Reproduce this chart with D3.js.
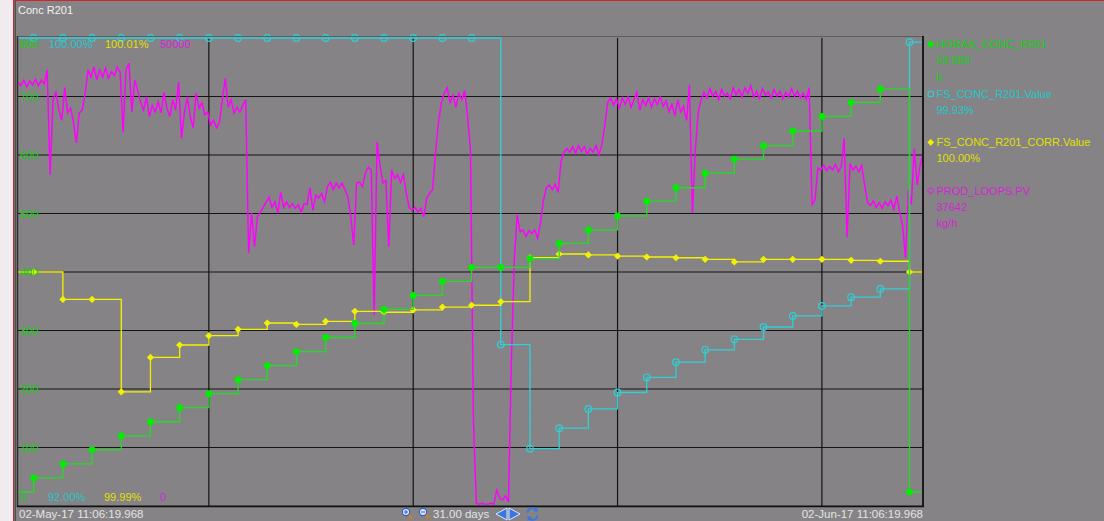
<!DOCTYPE html>
<html>
<head>
<meta charset="utf-8">
<script src="https://cdn.jsdelivr.net/npm/d3@7"></script>
<style>
  html, body { margin: 0; padding: 0; background: #858385; }
  svg { display: block; font-family: "Liberation Sans", Arial, sans-serif; }
</style>
</head>
<body>
<div id="chart"></div>
<script>
const chartTitle = "Conc R201"
const startTime = new Date(2017, 4, 2, 11, 6, 19, 968)
const spanDays = 31
const spanLabel = "31.00 days"
const startLabel = "02-May-17 11:06:19.968"
const endLabel = "02-Jun-17 11:06:19.968"

// weekly grid lines (midnight)
const gridDates = [new Date(2017, 4, 9), new Date(2017, 4, 16), new Date(2017, 4, 23), new Date(2017, 4, 30)]
const leftTicks = [100, 200, 300, 400, 500, 600, 700]

// daily samples at midnight, 03-May .. 02-Jun
const sampleDates = d3.timeDay.range(new Date(2017, 4, 3), new Date(2017, 5, 3))

// HORAS_CONC_R201 (h)
const horasPrev = 24.0
const horasValues = [48, 72, 96, 120, 144, 168, 192, 216, 240, 264, 288, 312, 336, 360, 384, 408,
    408, 423, 449, 472, 496, 521, 544, 569, 593, 616, 641, 666, 690, 713, 23.983]

// FS_CONC_R201.Value (%)
const fsPrev = 100.0
const fsValues = [100, 100, 100, 100, 100, 100, 100, 100, 100, 100, 100, 100, 100, 100, 100, 100,
    94.76, 92.98, 93.33, 93.66, 93.94, 94.20, 94.46, 94.67, 94.85, 95.06, 95.25, 95.42, 95.57, 95.71, 99.93]

// FS_CONC_R201_CORR.Value (%)
const corrPrev = 100.0
const corrValues = [100.0, 99.99883, 99.99883, 99.99488, 99.99635, 99.99688, 99.99728, 99.99755,
    99.99782, 99.99776, 99.99789, 99.99832, 99.99828, 99.99838, 99.99850, 99.99858, 99.99873,
    100.00061, 100.00077, 100.00073, 100.00068, 100.00064, 100.00061, 100.00054, 100.00043,
    100.00054, 100.00054, 100.00054, 100.00050, 100.00046, 100.0]

// PROD_LOOPS.PV (kg/h), one reading every 2.4 h
const prodStepHours = 2.4
const prodValues = [
    45300, 44900, 45500, 44800, 45400, 45000, 45600, 44900, 45500, 45100,
    46600, 35400, 43400, 44200, 42300, 41200, 44700, 42000, 42500, 41000,
    38800, 42000, 42300, 44100, 46600, 45800, 46900, 45500, 46600, 45800,
    46800, 45700, 46400, 46000, 46900, 46300, 39900, 46600, 47300, 42100,
    45500, 44400, 43100, 42300, 43700, 41600, 42800, 42100, 43200, 42000,
    44200, 42500, 41600, 43400, 42300, 45300, 39300, 42000, 43700, 41600,
    40400, 44100, 42500, 43100, 41800, 42100, 40700, 41200, 40400, 41000,
    43400, 45700, 42600, 43400, 42000, 42600, 42100, 42800, 43400, 27000,
    31300, 27700, 30900, 31400, 31900, 32500, 33000, 31900, 32500, 31300,
    33500, 31900, 32500, 31900, 32300, 31800, 32200, 31400, 32300, 32200,
    34000, 31600, 33200, 32900, 33400, 32500, 34100, 34600, 33800, 34500,
    34000, 34500, 33800, 33000, 30900, 27900, 34500, 34600, 34100, 35600,
    36200, 35900, 20400, 38900, 36400, 34500, 34800, 27700, 35900, 35000,
    35400, 34600, 35400, 33400, 31900, 31600, 31900, 31400, 31800, 30900,
    32900, 33400, 33800, 37700, 40900, 43100, 44100, 44700, 43100, 43900,
    42600, 44100, 43400, 44400, 41600, 38000, 9200, 300, 200, 300,
    200, 200, 300, 200, 1700, 850, 640, 1100, 430, 15600,
    26300, 31100, 29300, 29500, 28800, 29400, 29100, 29500, 28600, 30300,
    32700, 34000, 34300, 33800, 34400, 33500, 36800, 37800, 38200, 37800,
    38400, 37700, 38500, 37900, 38400, 37600, 38200, 37800, 38500, 37500,
    38600, 40700, 43100, 43600, 42800, 43500, 42500, 43600, 42900, 43700,
    42600, 43400, 44200, 42300, 43400, 42800, 43600, 42600, 43500, 42900,
    43700, 42700, 43300, 42100, 42900, 41700, 43400, 42100, 42700, 41200,
    45000, 31300, 38000, 42100, 43400, 44200, 43600, 44600, 43800, 44300,
    43400, 44500, 43800, 44100, 43500, 44700, 43900, 44500, 43700, 44700,
    44100, 44900, 43700, 44300, 43500, 44600, 43900, 44200, 43600, 44500,
    43800, 44300, 43500, 44200, 43700, 44600, 43800, 44300, 43600, 44100,
    43400, 44700, 32200, 32700, 36100, 35900, 36400, 35800, 36300, 35900,
    36500, 35700, 36300, 39300, 28700, 36600, 35900, 36300, 35700, 36400,
    34300, 32400, 32100, 32600, 31900, 32400, 31800, 32500, 32100, 32700,
    31700, 33100, 31400, 30000, 26500, 33800, 32200, 38200, 34300, 36400, 37642]

// range labels shown inside the plot (top / bottom)
const rangeTop = ["800", "100.00%", "100.01%", "50000"]
const rangeBottom = ["0", "92.00%", "99.99%", "0"]

// legend
const legendNames = ["HORAS_CONC_R201", "FS_CONC_R201.Value", "FS_CONC_R201_CORR.Value", "PROD_LOOPS.PV"]
const legendValues = ["23.983", "99.93%", "100.00%", "37642"]
const legendUnits = ["h", "", "", "kg/h"]

// ---- drawing ----
const W = 1104, H = 521
const plot = {left: 18, right: 923, top: 38, bottom: 506}
const colGreen = "#00ee00", colCyan = "#2fd0d6", colYellow = "#f2f200", colMagenta = "#ff00ff"
const txtGreen = "#10d010", txtCyan = "#22c8cc", txtYellow = "#e0e000", txtMagenta = "#d81ed8"

const endTime = new Date(+startTime + spanDays * 864e5)

const svg = d3.select("#chart").append("svg")
    .attr("width", W)
    .attr("height", H)

// window background and borders
svg.append("rect").attr("width", W).attr("height", H).attr("fill", "#858385")
svg.append("rect").attr("width", 13).attr("height", H).attr("fill", "#efebef")
svg.append("line").attr("x1", 13.5).attr("x2", 13.5).attr("y1", 0).attr("y2", H)
    .attr("stroke", "#d02828").attr("stroke-width", 1)
svg.append("line").attr("x1", 13).attr("x2", W).attr("y1", 0.5).attr("y2", 0.5)
    .attr("stroke", "#d02828").attr("stroke-width", 1)
svg.append("line").attr("x1", 15.2).attr("x2", 15.2).attr("y1", 1).attr("y2", H)
    .attr("stroke", "#3a3a3a").attr("stroke-width", 1)

svg.append("text")
    .attr("x", 18).attr("y", 14)
    .attr("fill", "#f2f2f2").style("font-size", "11px")
    .text(chartTitle)

const x = d3.scaleTime().domain([startTime, endTime]).range([plot.left, plot.right])
const yH = d3.scaleLinear().domain([0, 800]).range([plot.bottom, plot.top])
const yF = d3.scaleLinear().domain([92, 100]).range([plot.bottom, plot.top])
const yC = d3.scaleLinear().domain([99.99, 100.01]).range([plot.bottom, plot.top])
const yP = d3.scaleLinear().domain([0, 50000]).range([plot.bottom, plot.top])

// grid
const grid = svg.append("g")
grid.selectAll("line.h")
    .data(leftTicks)
    .enter()
    .append("line")
    .attr("x1", plot.left).attr("x2", plot.right)
    .attr("y1", d => yH(d)).attr("y2", d => yH(d))
    .attr("stroke", "#141414").attr("stroke-width", 1.2)
grid.selectAll("line.v")
    .data(gridDates)
    .enter()
    .append("line")
    .attr("x1", d => x(d)).attr("x2", d => x(d))
    .attr("y1", plot.top).attr("y2", plot.bottom)
    .attr("stroke", "#141414").attr("stroke-width", 1.2)

// step series helper: previous value at start, samples, hold to the end
function stepData(prev, values) {
    let pts = [{t: startTime, v: prev}]
    sampleDates.forEach((t, i) => pts.push({t: t, v: values[i]}))
    pts.push({t: endTime, v: values[values.length - 1]})
    return pts
}
function samplePts(values) {
    return sampleDates.map((t, i) => ({t: t, v: values[i]}))
}

// PROD_LOOPS.PV
const prodData = prodValues.map((v, i) => ({t: new Date(+startTime + i * prodStepHours * 36e5), v: v}))
svg.append("path")
    .datum(prodData)
    .attr("fill", "none")
    .attr("stroke", colMagenta)
    .attr("stroke-width", 1.45)
    .attr("d", d3.line().x(d => x(d.t)).y(d => yP(d.v)))

// FS_CONC_R201.Value
svg.append("path")
    .datum(stepData(fsPrev, fsValues))
    .attr("fill", "none")
    .attr("stroke", colCyan)
    .attr("stroke-width", 1.3)
    .attr("d", d3.line().curve(d3.curveStepAfter).x(d => x(d.t)).y(d => yF(d.v)))
svg.append("g")
    .selectAll("circle")
    .data(samplePts(fsValues))
    .enter()
    .append("circle")
    .attr("cx", d => x(d.t)).attr("cy", d => yF(d.v))
    .attr("r", 3.3)
    .attr("fill", "none")
    .attr("stroke", colCyan)
    .attr("stroke-width", 1.2)

// FS_CONC_R201_CORR.Value
svg.append("path")
    .datum(stepData(corrPrev, corrValues))
    .attr("fill", "none")
    .attr("stroke", colYellow)
    .attr("stroke-width", 1.3)
    .attr("d", d3.line().curve(d3.curveStepAfter).x(d => x(d.t)).y(d => yC(d.v)))
svg.append("g")
    .selectAll("path")
    .data(samplePts(corrValues))
    .enter()
    .append("path")
    .attr("d", d => {
        let cx = x(d.t), cy = yC(d.v), r = 3.6
        return `M${cx},${cy - r}L${cx + r},${cy}L${cx},${cy + r}L${cx - r},${cy}Z`
    })
    .attr("fill", colYellow)

// HORAS_CONC_R201
svg.append("path")
    .datum(stepData(horasPrev, horasValues))
    .attr("fill", "none")
    .attr("stroke", "#22dd22")
    .attr("stroke-width", 1.3)
    .attr("d", d3.line().curve(d3.curveStepAfter).x(d => x(d.t)).y(d => yH(d.v)))
svg.append("g")
    .selectAll("circle")
    .data(samplePts(horasValues))
    .enter()
    .append("circle")
    .attr("cx", d => x(d.t)).attr("cy", d => yH(d.v))
    .attr("r", 3.4)
    .attr("fill", colGreen)

// plot frame
svg.append("line").attr("x1", plot.left).attr("x2", plot.right).attr("y1", 36.5).attr("y2", 36.5)
    .attr("stroke", "#5e5c5e").attr("stroke-width", 1)
svg.append("line").attr("x1", 17.5).attr("x2", 17.5).attr("y1", 36).attr("y2", 507)
    .attr("stroke", "#303030").attr("stroke-width", 1.5)
svg.append("line").attr("x1", plot.right).attr("x2", plot.right).attr("y1", 36).attr("y2", 507)
    .attr("stroke", "#101010").attr("stroke-width", 1.8)
svg.append("line").attr("x1", 17).attr("x2", 924).attr("y1", 506.3).attr("y2", 506.3)
    .attr("stroke", "#101010").attr("stroke-width", 1.8)

// left axis labels (HORAS scale)
svg.append("g")
    .selectAll("text")
    .data(leftTicks)
    .enter()
    .append("text")
    .attr("x", 20).attr("y", d => yH(d) + 4)
    .attr("fill", txtGreen).style("font-size", "11px")
    .text(d => d)

// range labels
const rangeX = [20, 49, 105, 160]
const rangeCols = [txtGreen, txtCyan, txtYellow, txtMagenta]
svg.append("g").selectAll("text")
    .data(rangeTop).enter().append("text")
    .attr("x", (d, i) => rangeX[i]).attr("y", 48)
    .attr("fill", (d, i) => rangeCols[i]).style("font-size", "11px")
    .text(d => d)
svg.append("g").selectAll("text")
    .data(rangeBottom).enter().append("text")
    .attr("x", (d, i) => rangeX[i] - (i == 1 || i == 2 ? 1 : 0)).attr("y", 500.5)
    .attr("fill", (d, i) => rangeCols[i]).style("font-size", "11px")
    .text(d => d)

// legend
const legTop = [44.3, 94, 142.3, 190.7]
const legCols = [txtGreen, txtCyan, txtYellow, txtMagenta]
const leg = svg.append("g")
legendNames.forEach((name, i) => {
    let cy = legTop[i]
    if (i == 0) leg.append("circle").attr("cx", 930.7).attr("cy", cy).attr("r", 3).attr("fill", colGreen)
    if (i == 1) leg.append("circle").attr("cx", 930.7).attr("cy", cy).attr("r", 2.8)
        .attr("fill", "none").attr("stroke", colCyan).attr("stroke-width", 1.1)
    if (i == 2) leg.append("path").attr("d", `M930.7,${cy - 3.4}L934.1,${cy}L930.7,${cy + 3.4}L927.3,${cy}Z`)
        .attr("fill", colYellow)
    if (i == 3) leg.append("path").attr("d", `M930.7,${cy - 3.2}L933.9,${cy}L930.7,${cy + 3.2}L927.5,${cy}Z`)
        .attr("fill", "none").attr("stroke", colMagenta).attr("stroke-width", 1)
    leg.append("text").attr("x", 936.5).attr("y", cy + 4)
        .attr("fill", legCols[i]).style("font-size", "11px").text(name)
    leg.append("text").attr("x", 936.5).attr("y", cy + 20)
        .attr("fill", legCols[i]).style("font-size", "11px").text(legendValues[i])
    if (legendUnits[i]) leg.append("text").attr("x", 936.5).attr("y", cy + 36.3)
        .attr("fill", legCols[i]).style("font-size", "11px").text(legendUnits[i])
})

// bottom bar
svg.append("text").attr("x", 19).attr("y", 517.5)
    .attr("fill", "#e4e4e4").style("font-size", "11.5px").text(startLabel)
svg.append("text").attr("x", 923).attr("y", 517.5).attr("text-anchor", "end")
    .attr("fill", "#e4e4e4").style("font-size", "11.5px").text(endLabel)
svg.append("text").attr("x", 433).attr("y", 517.5)
    .attr("fill", "#e4e4e4").style("font-size", "11.5px").text(spanLabel)

// zoom in / zoom out magnifiers
const tools = svg.append("g")
;[[406, "+"], [423, "-"]].forEach(([cx, sign]) => {
    tools.append("line").attr("x1", cx + 2.5).attr("y1", 514.5).attr("x2", cx + 6).attr("y2", 518.5)
        .attr("stroke", "#e07818").attr("stroke-width", 2.2)
    tools.append("circle").attr("cx", cx).attr("cy", 512).attr("r", 3.6)
        .attr("fill", "#d8e8ff").attr("stroke", "#2f5fc0").attr("stroke-width", 1.1)
    tools.append("line").attr("x1", cx - 2).attr("x2", cx + 2).attr("y1", 512).attr("y2", 512)
        .attr("stroke", "#2f5fc0").attr("stroke-width", 1)
    if (sign == "+") tools.append("line").attr("x1", cx).attr("x2", cx).attr("y1", 510).attr("y2", 514)
        .attr("stroke", "#2f5fc0").attr("stroke-width", 1)
})
// scroll arrows
tools.append("path").attr("d", "M496,514L507,508L507,520Z")
    .attr("fill", "#3a78e0").attr("stroke", "#dce8ff").attr("stroke-width", 1)
tools.append("path").attr("d", "M520,514L509,508L509,520Z")
    .attr("fill", "#3a78e0").attr("stroke", "#dce8ff").attr("stroke-width", 1)
// refresh
tools.append("path").attr("d", "M527.5,512.5A5,5 0 0 1 536,509.5M537.5,515.5A5,5 0 0 1 529,518.5")
    .attr("fill", "none").attr("stroke", "#3a78e0").attr("stroke-width", 2)
tools.append("path").attr("d", "M537.5,507L537.5,512L533,511Z").attr("fill", "#3a78e0")
tools.append("path").attr("d", "M527.5,521L527.5,516L532,517Z").attr("fill", "#3a78e0")
</script>
</body>
</html>
